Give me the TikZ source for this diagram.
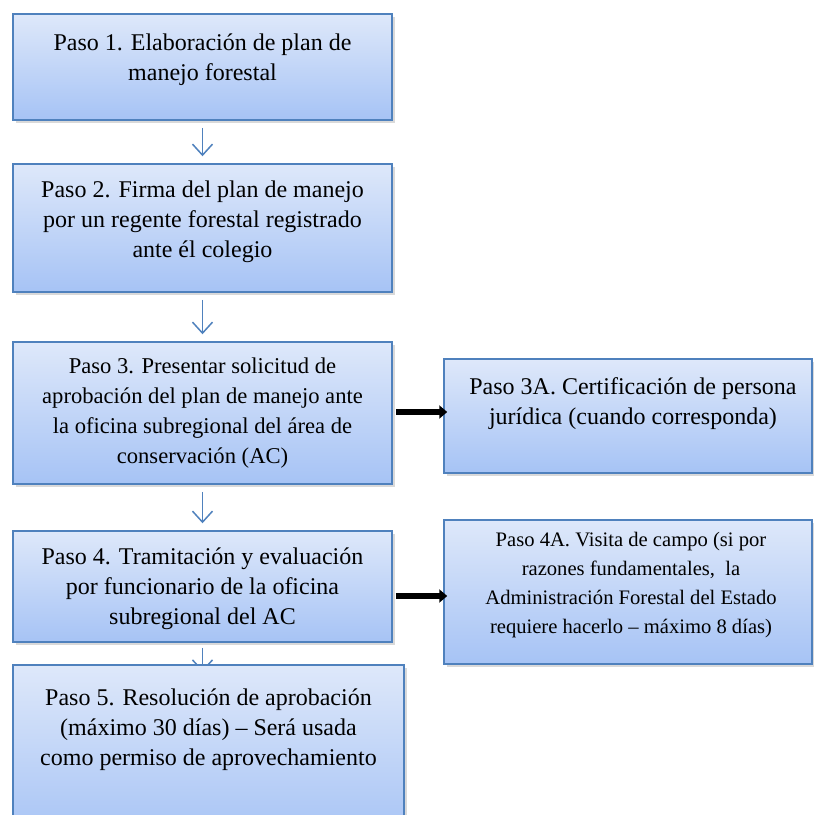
\documentclass[tikz,border=0pt]{standalone}
\usepackage{fontspec}
\setmainfont{Liberation Serif}
\usepackage{xcolor}
\usetikzlibrary{arrows.meta,shadows,backgrounds}

\definecolor{pasoTop}{HTML}{DEE8FA}
\definecolor{pasoBot}{HTML}{A6C3F5}
\definecolor{pasoLine}{HTML}{4F81BD}

\tikzset{
  pasobox/.style={rectangle, draw=pasoLine, line width=1.5pt, top color=pasoTop, bottom color=pasoBot,
    drop shadow={shadow xshift=2.5pt, shadow yshift=-3pt, opacity=0.3}, inner sep=0pt},
  pasotxt/.style={align=center, inner sep=0pt, font=\fontsize{24}{30}\selectfont},
  flecha/.style={draw=pasoLine, line width=1.5pt, -{Straight Barb[length=11pt,width=20pt]},
    shorten <=7pt, shorten >=7pt},
  flechanegra/.style={line width=5.5pt, -{Triangle[length=8pt,width=13pt]}}
}

\begin{document}
\begin{tikzpicture}[x=1pt,y=-1pt]
\clip (0,0) rectangle (814,815);

% pasos
\node[pasobox, minimum width=379pt, minimum height=106pt] (s1) at (202.5,67) {};
\node[pasobox, minimum width=379pt, minimum height=128pt] (s2) at (202.5,228) {};
\node[pasobox, minimum width=379pt, minimum height=142pt] (s3) at (202.5,413) {};
\node[pasobox, minimum width=379pt, minimum height=111pt] (s4) at (202.5,586.5) {};
\node[pasobox, minimum width=368pt, minimum height=114pt] (s3a) at (628,416) {};
\node[pasobox, minimum width=368pt, minimum height=144pt] (s4a) at (628,592) {};

\node[pasotxt] (t1) at (202.5,60) {Paso 1. Elaboración de plan de\\manejo forestal};
\node[pasotxt] (t2) at (202.5,222) {Paso 2. Firma del plan de manejo\\por un regente forestal registrado\\ante él colegio};
\node[pasotxt, font=\fontsize{22.6}{30}\selectfont] (t3) at (202.5,413) {Paso 3. Presentar solicitud de\\aprobación del plan de manejo ante\\la oficina subregional del área de\\conservación (AC)};
\node[pasotxt] (t4) at (202.5,589) {Paso 4. Tramitación y evaluación\\por funcionario de la oficina\\subregional del AC};
\node[pasotxt] (t3a) at (633,404) {Paso 3A. Certificación de persona\\jurídica (cuando corresponda)};
\node[pasotxt, font=\fontsize{20.6}{29}\selectfont] (t4a) at (631,585) {Paso 4A. Visita de campo (si por\\razones fundamentales,~ la\\Administración Forestal del Estado\\requiere hacerlo – máximo 8 días)};

% flechas azules detras
\begin{scope}[on background layer]
\draw[flecha] (s1) -- (s2);
\draw[flecha] (s2) -- (s3);
\draw[flecha] (s3) -- (s4);
\end{scope}
\draw[flecha, shorten <=5pt, shorten >=-7pt] (s4.south) -- (202.5,665);

\node[pasobox, minimum width=391pt, minimum height=175pt] (s5) at (208.5,752.5) {};
\node[pasotxt] (t5) at (208.5,730) {Paso 5. Resolución de aprobación\\(máximo 30 días) – Será usada\\como permiso de aprovechamiento};

% flechas negras
\draw[flechanegra, shorten <=3pt, shorten >=-4pt] ([yshift=1pt]s3.east) -- ([yshift=1pt]s3.east -| s3a.west);
\draw[flechanegra, shorten <=3pt, shorten >=-4pt] ([yshift=-9.5pt]s4.east) -- ([yshift=-9.5pt]s4.east -| s4a.west);

\end{tikzpicture}
\end{document}
